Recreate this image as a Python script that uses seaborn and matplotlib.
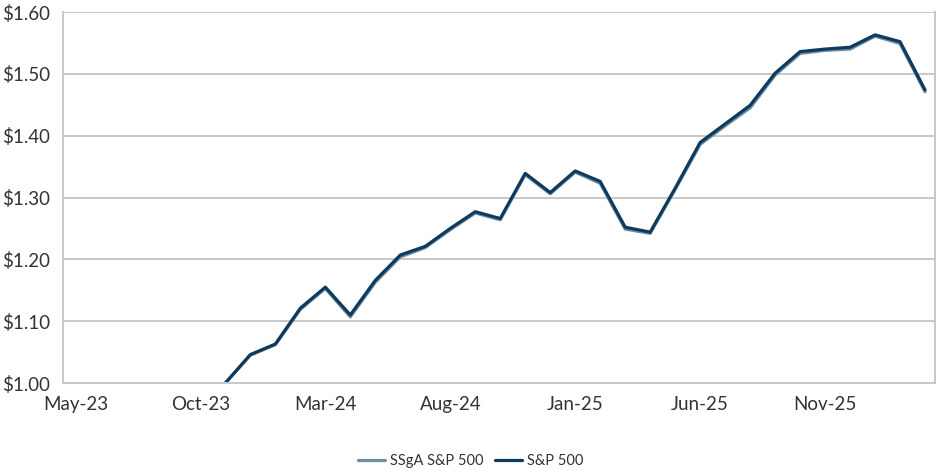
import matplotlib
matplotlib.use("Agg")
import matplotlib.pyplot as plt
from matplotlib.lines import Line2D
import numpy as np
import pandas as pd
import seaborn as sns

# Monthly growth of $1, May-23 through Mar-26
months = ["May-23", "Jun-23", "Jul-23", "Aug-23", "Sep-23", "Oct-23", "Nov-23", "Dec-23",
          "Jan-24", "Feb-24", "Mar-24", "Apr-24", "May-24", "Jun-24", "Jul-24", "Aug-24",
          "Sep-24", "Oct-24", "Nov-24", "Dec-24", "Jan-25", "Feb-25", "Mar-25", "Apr-25",
          "May-25", "Jun-25", "Jul-25", "Aug-25", "Sep-25", "Oct-25", "Nov-25", "Dec-25",
          "Jan-26", "Feb-26", "Mar-26"]

sp500 = [np.nan, np.nan, np.nan, np.nan, np.nan, np.nan, 1.000, 1.046,
         1.063, 1.121, 1.155, 1.110, 1.166, 1.207, 1.221, 1.250,
         1.277, 1.266, 1.339, 1.308, 1.343, 1.326, 1.252, 1.244,
         1.315, 1.389, 1.419, 1.449, 1.501, 1.536, 1.540, 1.543,
         1.563, 1.552, 1.474]

ssga = [np.nan, np.nan, np.nan, np.nan, np.nan, np.nan, 1.000, 1.045,
        1.062, 1.119, 1.153, 1.107, 1.163, 1.204, 1.219, 1.248,
        1.275, 1.264, 1.337, 1.306, 1.341, 1.323, 1.249, 1.242,
        1.313, 1.386, 1.416, 1.445, 1.498, 1.533, 1.538, 1.540,
        1.561, 1.549, 1.471]

series_names = ["SSgA S&P 500", "S&P 500"]
series_colors = ["#6F8DA3", "#0D3A5F"]

tick_every = 5

df = pd.DataFrame({
    "idx": list(range(len(months))) * 2,
    "value": ssga + sp500,
    "series": [series_names[0]] * len(months) + [series_names[1]] * len(months),
})

sns.set_theme(style="white")
plt.rcParams["font.family"] = ["Lato", "DejaVu Sans"]

fig = plt.figure(figsize=(9.37, 4.71), dpi=100)
ax = fig.add_axes([0.0672, 0.1868, 0.9307, 0.7877])

sns.lineplot(data=df, x="idx", y="value", hue="series", palette=series_colors,
             hue_order=series_names, linewidth=2.3, ax=ax, legend=False, sort=False)

grid_c = "#C8C8C8"
ax.set_xlim(-0.5, len(months) - 0.6)
ax.set_ylim(1.0, 1.6)
yt = np.arange(1.0, 1.601, 0.1)
ax.set_yticks(yt)
ax.set_yticklabels([f"${v:.2f}" for v in yt])
xt = list(range(0, len(months), tick_every))
ax.set_xticks(xt)
ax.set_xticklabels([months[i] for i in xt])
ax.yaxis.grid(True, color=grid_c, linewidth=1.4)
ax.set_axisbelow(True)
ax.set_xlabel("")
ax.set_ylabel("")

for side in ["left", "bottom", "right"]:
    ax.spines[side].set_visible(True)
    ax.spines[side].set_color(grid_c)
    ax.spines[side].set_linewidth(1.4)
ax.spines["top"].set_visible(False)

ax.tick_params(axis="x", direction="in", length=7, width=1.2, color=grid_c,
               labelsize=13.5, labelcolor="#333333", pad=9)
ax.tick_params(axis="y", length=0, labelsize=13.5, labelcolor="#333333", pad=9)

handles = [Line2D([0], [0], color=c, linewidth=2.3) for c in series_colors]
fig.legend(handles, series_names, loc="center", bbox_to_anchor=(0.502, 0.022),
           ncol=2, frameon=False, fontsize=10.5, handlelength=1.9, handletextpad=0.3,
           columnspacing=0.8, labelcolor="#333333")

fig.savefig("out.png", dpi=100)
